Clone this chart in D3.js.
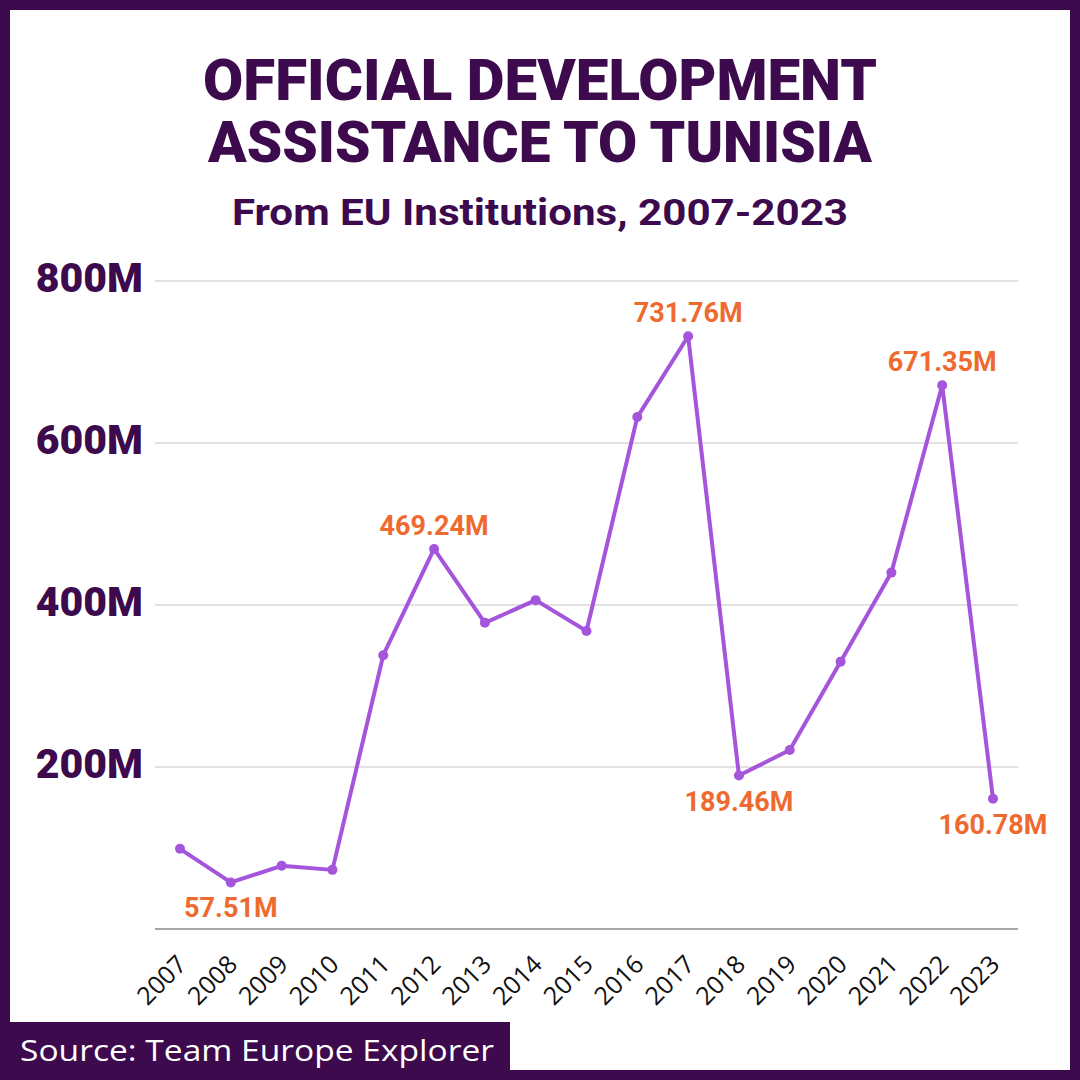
<!DOCTYPE html>
<html><head><meta charset="utf-8">
<script src="https://cdn.jsdelivr.net/npm/d3@7"></script>
<style>html,body{margin:0;padding:0;background:#fff;}svg{display:block;}</style>
</head><body>
<svg id="c" width="1080" height="1080"></svg>
<script>
const years = ["2007","2008","2009","2010","2011","2012","2013","2014","2015","2016","2017","2018","2019","2020","2021","2022","2023"];
const values = [99, 57.51, 78, 73, 338, 469.24, 378, 406, 368, 632, 731.76, 189.46, 221, 330, 440, 671.35, 160.78];
const labelled = {"2008":"below","2012":"above","2017":"above","2018":"below","2022":"above","2023":"below"};
const yTicks = [200, 400, 600, 800];
const yTickLabels = ["200M","400M","600M","800M"];

const purple = "#3c0a4d", line = "#a455dc", orange = "#ee6a2f";
const svg = d3.select("#c");
svg.append("rect").attr("width",1080).attr("height",1080).attr("fill",purple);
svg.append("rect").attr("x",10).attr("y",10).attr("width",1060).attr("height",1060).attr("fill","#fff");

const tf = "Roboto, 'DejaVu Sans', sans-serif";
svg.append("text").attr("x",540).attr("y",100).attr("text-anchor","middle").attr("font-family",tf).attr("font-weight",900)
  .attr("font-size",58).attr("fill",purple).attr("textLength",674).attr("lengthAdjust","spacingAndGlyphs").text("OFFICIAL DEVELOPMENT");
svg.append("text").attr("x",540).attr("y",162).attr("text-anchor","middle").attr("font-family",tf).attr("font-weight",900)
  .attr("font-size",58).attr("fill",purple).attr("textLength",664).attr("lengthAdjust","spacingAndGlyphs").text("ASSISTANCE TO TUNISIA");
svg.append("text").attr("x",540).attr("y",225).attr("text-anchor","middle").attr("font-family",tf).attr("font-weight",700)
  .attr("font-size",37).attr("fill",purple).attr("textLength",616).attr("lengthAdjust","spacingAndGlyphs").text("From EU Institutions, 2007-2023");

const x = d3.scalePoint().domain(years).range([180, 993]);
const y = d3.scaleLinear().domain([0, 800]).range([929, 281]);

const g = svg.append("g");
g.selectAll("line.grid").data(yTicks).join("line").attr("class","grid")
  .attr("x1",155).attr("x2",1018).attr("y1",d=>y(d)).attr("y2",d=>y(d)).attr("stroke","#d8d8d8").attr("stroke-width",1.5);
g.append("line").attr("x1",155).attr("x2",1018).attr("y1",y(0)).attr("y2",y(0)).attr("stroke","#a8a8a8").attr("stroke-width",2);

g.selectAll("text.yl").data(yTicks).join("text").attr("class","yl")
  .attr("x",143).attr("y",d=>y(d)+11).attr("text-anchor","end").attr("font-family",tf).attr("font-weight",900)
  .attr("font-size",41).attr("fill",purple).text((d,i)=>yTickLabels[i]);

g.selectAll("text.xl").data(years).join("text").attr("class","xl")
  .attr("transform",d=>`translate(${x(d)+8},966) rotate(-45)`).attr("text-anchor","end")
  .attr("font-family","'Open Sans', sans-serif").attr("font-size",25).attr("fill","#111").text(d=>d);

const data = years.map((yr,i)=>({yr, v: values[i]}));
g.append("path").datum(data).attr("fill","none").attr("stroke",line).attr("stroke-width",4).attr("stroke-linejoin","round")
  .attr("d", d3.line().x(d=>x(d.yr)).y(d=>y(d.v)));
g.selectAll("circle").data(data).join("circle").attr("cx",d=>x(d.yr)).attr("cy",d=>y(d.v)).attr("r",5).attr("fill",line);

g.selectAll("text.vl").data(data.filter(d=>labelled[d.yr])).join("text").attr("class","vl")
  .attr("x",d=>x(d.yr)).attr("y",d=>labelled[d.yr]==="above" ? y(d.v)-14 : y(d.v)+35)
  .attr("text-anchor","middle").attr("font-family",tf).attr("font-weight",700).attr("font-size",27).attr("fill",orange)
  .text(d=>d.v.toFixed(2)+"M");

svg.append("rect").attr("x",10).attr("y",1022).attr("width",500).attr("height",50).attr("fill",purple);
svg.append("text").attr("x",20).attr("y",1061).attr("font-family","'Open Sans', sans-serif").attr("font-size",30)
  .attr("fill","#fff").attr("textLength",474).attr("lengthAdjust","spacingAndGlyphs").text("Source: Team Europe Explorer");
</script>
</body></html>
